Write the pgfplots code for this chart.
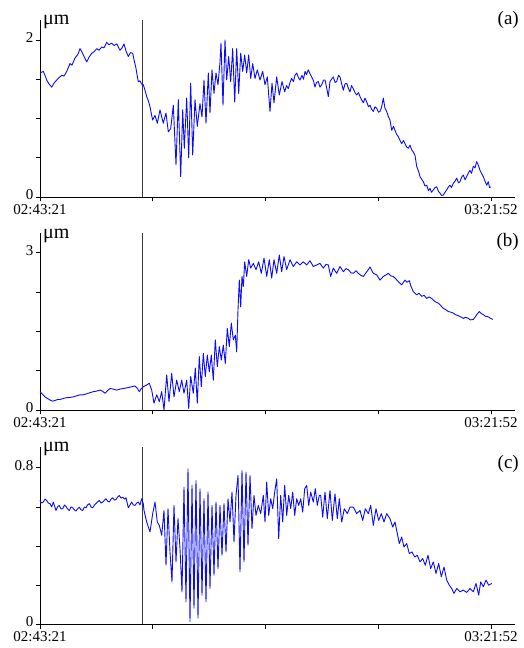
\documentclass[border=0pt]{standalone}
\usepackage{fontspec}
\setmainfont{Liberation Serif}
\usepackage{pgfplots}
\pgfplotsset{compat=1.18}
\definecolor{trace}{RGB}{10,10,255}
\definecolor{marker}{RGB}{60,60,60}
\begin{document}
\begin{tikzpicture}
\pgfplotsset{
  panel/.style={
    scale only axis, width=475pt, height=177pt,
    xmin=0, xmax=475, ymin=0,
    axis x line=bottom, axis y line=left,
    axis line style={-, line width=0.9pt, black},
    tick align=outside, major tick length=4.5pt,
    tick style={line width=0.8pt, black},
    xtick={0,112.75,225.5,338.25,451},
    xticklabels={02:43:21,,,,03:21:52},
    tick label style={font=\fontsize{15}{15}\selectfont},
    xticklabel style={inner xsep=1pt, inner ysep=0pt, yshift=-2.5pt},
    yticklabel style={inner xsep=2pt, inner ysep=0pt, yshift=2.5pt},
    /pgf/number format/assume math mode=true,
    clip=false,
  },
  trace/.style={color=trace, line width=0.9pt, no marks, line join=round},
  vline/.style={color=marker, line width=0.6pt, no marks},
}
\path[use as bounding box] (0,0) rectangle (523pt,648pt);

% ---------------- (a)
\begin{axis}[panel, at={(40pt,451pt)}, anchor=south west, ymax=2.255,
  ytick={0,0.5,1,1.5,2}, yticklabels={0,,,,2}]
\addplot[vline] coordinates {(102,0) (102,2.255)};
\addplot[trace] coordinates {
(0,1.58) (3.3,1.60) (5,1.55) (6.7,1.49) (9,1.44) (11.7,1.40) (14,1.45) (16.7,1.49) (19,1.52) (21.7,1.55) (24,1.54) (26.7,1.60) (30,1.70) (32,1.68) (35,1.77) (38,1.82) (40,1.89) (41.5,1.86) (43.3,1.81) (46.7,1.72) (49,1.78) (51.7,1.83) (54,1.85) (56.7,1.89) (59,1.87) (61.7,1.91) (64,1.90) (66.7,1.97) (69,1.94) (71.7,1.96) (74,1.93) (76.7,1.95) (80,1.87) (82,1.90) (84,1.95) (86,1.86) (88.3,1.79) (90.5,1.84) (92.7,1.83) (94.5,1.72) (96,1.64) (97,1.56) (98.3,1.47) (100,1.48) (101.5,1.44) (103.3,1.43) (105,1.36) (106.7,1.28) (108.5,1.22) (110,1.15) (111.5,1.05) (112.7,0.98) (115,1.04) (117.3,0.94) (120,1.11) (123.3,0.94) (126,1.07) (128.3,0.83) (130.7,0.87)
(133.3,1.17) (136,0.41) (138.3,1.24) (140.7,0.26) (142.7,1.11) (144.3,0.62) (146.7,1.26) (148.7,0.50) (150.7,1.45) (152.7,0.535) (155,1.24) (157.3,0.90) (160,1.19) (162,1.02) (164,1.49) (166,0.94) (168.3,1.58) (170,1.07) (172,1.62) (174,1.32) (176,1.58) (178,1.43) (180,1.72) (181,1.96) (183,1.17) (185,2.0) (186.7,1.49) (188.7,1.79) (190.7,1.47) (192.7,1.89) (194.7,1.21) (196.7,1.89) (198.7,1.32) (200.7,1.83) (202.7,1.60) (204.7,1.81) (206.7,1.58) (208.7,1.81) (210.7,1.51) (212.7,1.70) (215,1.51) (217.3,1.62) (220,1.49) (222.7,1.60) (225,1.43) (227.3,1.53) (230,1.09) (232,1.45) (234,1.20) (236.7,1.53) (239.3,1.30) (242,1.47) (244.7,1.34) (246.5,1.42) (248.3,1.38) (250,1.46) (251.7,1.51) (253.5,1.47) (255,1.55) (256.7,1.58) (258.5,1.52) (260,1.49) (262,1.55) (263.5,1.50) (265,1.60) (266.5,1.56) (268.3,1.62) (270,1.57) (271.7,1.53) (273.5,1.48) (275,1.40) (276.5,1.46) (278.3,1.47) (280,1.40) (281.7,1.43) (283.5,1.49) (285,1.49) (286.5,1.40) (288.3,1.28) (290,1.47) (291.5,1.50) (293.3,1.53) (295,1.46) (296.7,1.47) (298.5,1.55) (300,1.53) (301.5,1.45) (303.3,1.36) (305,1.44) (306.7,1.45) (308.5,1.38) (310,1.34) (311.5,1.42) (313.3,1.38) (315,1.33) (316.7,1.30) (318.5,1.33) (320,1.28) (321.5,1.24) (323.3,1.20) (325,1.26) (326.7,1.21) (328.5,1.15) (330,1.17) (331.5,1.12) (333.3,1.09) (335,1.15) (336.7,1.13) (338.5,1.08) (340,1.09) (341.5,1.14) (343.3,1.26) (345,1.13) (346.7,1.09) (348.5,1.02) (350,0.98) (351.7,0.85) (353.5,0.90) (355,0.85) (356.5,0.80) (358.3,0.77) (360,0.72) (361.7,0.68) (363.5,0.72) (365,0.68) (366.5,0.64) (368.3,0.62) (370,0.66) (371.7,0.60) (373.5,0.57) (375,0.53) (376.7,0.39) (378.5,0.33) (380,0.26) (381.5,0.23) (383.3,0.195) (385,0.14) (386.7,0.15) (388.5,0.08) (390,0.11) (391.5,0.06) (393.3,0.09) (395,0.12) (396.7,0.13) (398.5,0.07) (400,0.05) (401.5,0.02) (403.3,0.025) (405,0.06) (406.7,0.09) (408.5,0.13) (410,0.15) (411.5,0.12) (413.3,0.175) (415,0.20) (416.7,0.24) (418.5,0.18) (420,0.195) (421.5,0.25) (423.3,0.28) (425,0.22) (426.7,0.26) (428.5,0.31) (430,0.34) (431.5,0.30) (433.3,0.39) (435,0.37) (436.7,0.45) (438.5,0.40) (440,0.34) (441.5,0.30) (443.3,0.26) (445,0.20) (446.7,0.15) (448.3,0.195) (449.5,0.12) (450.7,0.13)
};
\end{axis}

% ---------------- (b)
\begin{axis}[panel, at={(40pt,238pt)}, anchor=south west, ymax=3.38,
  ytick={0,0.75,1.5,2.25,3}, yticklabels={0,,,,3}]
\addplot[vline] coordinates {(102,0) (102,3.38)};
\addplot[trace] coordinates {
(0,0.35) (2.5,0.30) (5,0.25) (7.5,0.22) (10,0.19) (12.5,0.17) (15,0.18) (17.5,0.20) (20,0.20) (23,0.22) (26.7,0.235) (30,0.24) (33.3,0.25) (36.5,0.27) (40,0.29) (43,0.29) (46.7,0.31) (50,0.33) (53.3,0.35) (56.5,0.36) (60,0.38) (62.5,0.36) (65,0.32) (67.5,0.37) (70,0.41) (73,0.40) (76.7,0.38) (80,0.40) (83.3,0.41) (86,0.42) (88.3,0.43) (91,0.44) (95,0.46) (97,0.42) (99.3,0.35) (101,0.40) (103.3,0.445) (106,0.47) (109.3,0.51) (111.7,0.38) (114,0.13) (116.7,0.29) (119.3,0.16) (121.7,0.35) (124,0.0) (126.7,0.67) (129,0.16) (131.7,0.70) (134,0.25) (136.7,0.57) (139.3,0.35) (141.7,0.57) (144,0.32) (146.7,0.57) (148.7,0.03) (150.7,0.64) (153.3,0.32) (155.3,0.80) (157.3,0.13) (159.3,1.02) (161.3,0.445) (163.3,1.08) (165.3,0.64) (167.3,1.05) (169.3,0.73) (171.3,1.05) (173.3,0.57) (175.3,1.34) (177.3,0.83) (179.3,1.21) (181.3,0.955) (183.3,1.24) (185.3,0.89) (187.3,1.56) (189.3,1.21) (191.3,1.66) (193.3,1.34) (195.3,1.43) (196.7,1.11) (198,1.91) (199.3,2.48) (200.7,1.97) (202,2.55) (203.3,2.36) (204.7,2.83) (206.7,2.55) (208.7,2.87) (210.7,2.71) (213.3,2.80) (216,2.68) (218.7,2.83) (221.3,2.61) (224,2.90) (226.7,2.55) (229.3,2.87) (231.7,2.52) (234,2.87) (236.7,2.61) (239.3,2.96) (241.7,2.64) (244,2.93) (246.7,2.68) (250,2.87) (253.3,2.74) (256.7,2.83) (260,2.77) (263.3,2.83) (266.7,2.77) (270,2.85) (273.3,2.74) (276.7,2.77) (280,2.80) (283.3,2.71) (286,2.78) (288.3,2.77) (290.7,2.55) (293.3,2.71) (296.7,2.61) (300,2.74) (303.3,2.64) (306,2.70) (308.3,2.68) (311,2.62) (313.3,2.61) (316,2.66) (318.3,2.61) (321,2.57) (323.3,2.55) (326,2.62) (328.3,2.68) (330,2.73) (333.3,2.61) (336.7,2.58) (340,2.48) (343.3,2.55) (346,2.58) (348.3,2.61) (351,2.56) (353.3,2.55) (356,2.50) (358.3,2.45) (361.7,2.39) (365,2.48) (367,2.44) (369.3,2.47) (371,2.36) (373.3,2.26) (376.7,2.20) (379,2.23) (381.7,2.17) (384,2.19) (386.7,2.13) (389,2.16) (391.7,2.13) (395,2.07) (398.3,2.04) (400.5,2.00) (403.3,1.94) (405.5,1.92) (408.3,1.88) (410.5,1.87) (413.3,1.85) (415.5,1.82) (418.3,1.80) (420.5,1.78) (423.3,1.75) (425.5,1.77) (428.3,1.75) (430.5,1.72) (433.3,1.73) (435,1.77) (436.7,1.82) (439.3,1.88) (441.5,1.84) (443.3,1.82) (445.5,1.79) (448.3,1.78) (450.5,1.75) (452.7,1.73)
};
\end{axis}

% ---------------- (c)
\begin{axis}[panel, at={(40pt,23.7pt)}, anchor=south west, ymax=0.905,
  ytick={0,0.2,0.4,0.6,0.8}, yticklabels={0,,,,0.8}]
\addplot[vline] coordinates {(102,0) (102,0.905)};
\addplot[trace] coordinates {
(0,0.633) (1.5,0.62) (3.3,0.625) (5,0.64) (6.7,0.633) (8.3,0.62) (10,0.617) (11.7,0.60) (13.3,0.625) (16,0.582) (17.5,0.60) (19.3,0.608) (21,0.59) (22.7,0.591) (24.5,0.61) (26,0.603) (27.5,0.59) (29.3,0.582) (31,0.60) (32.7,0.596) (34.5,0.585) (36,0.579) (37.5,0.59) (39.3,0.599) (41,0.585) (42.7,0.582) (44.5,0.60) (46,0.596) (47.5,0.61) (49.3,0.617) (51,0.60) (52.7,0.596) (54.5,0.61) (56,0.617) (57.5,0.625) (59.3,0.633) (61,0.62) (62.7,0.625) (64.5,0.635) (66,0.642) (67.5,0.63) (69.3,0.625) (71,0.64) (72.7,0.647) (74.5,0.635) (76,0.637) (77.5,0.65) (79.3,0.659) (81,0.645) (82.7,0.650) (84.5,0.64) (86,0.647) (88.3,0.596) (90,0.61) (91.7,0.625) (93.3,0.61) (95,0.608) (96.7,0.62) (98.3,0.625) (100,0.61) (101.7,0.642) (103.3,0.617) (104,0.582) (106.7,0.523) (110,0.472) (112.7,0.566) (115,0.625) (117.3,0.523) (119.3,0.506) (121.7,0.455) (124,0.582) (126,0.302) (128,0.591) (130,0.370) (132,0.217) (134,0.608) (136,0.319) (138,0.540) (140,0.387) (142,0.166) (144,0.701) (146,0.115) (148,0.795) (150,0.013) (152,0.710) (154,0.082) (156,0.735) (158,0.031) (160,0.693) (162,0.149) (164,0.642) (166,0.115) (168,0.676) (170,0.183) (172,0.608) (174,0.251) (176,0.625) (178,0.285) (180,0.608) (182,0.353) (184,0.617) (186,0.370) (188,0.642) (190,0.523) (192,0.676) (194,0.421) (196,0.659) (198,0.761) (200,0.268) (202,0.786) (204,0.319) (206,0.778) (208,0.404) (210,0.761) (212,0.489) (214,0.659) (216,0.557) (218.3,0.608) (220.7,0.566) (223.3,0.659) (225,0.523) (226.7,0.727) (228.7,0.557) (230.7,0.642) (232.7,0.591) (234.7,0.676) (236.7,0.744) (238.7,0.438) (240.7,0.659) (242.7,0.523) (244.7,0.710) (246.7,0.557) (248.7,0.659) (250.7,0.591) (252.7,0.676) (254.7,0.557) (256.7,0.642) (258.7,0.608) (260.7,0.642) (262.7,0.574) (264.7,0.693) (266.7,0.710) (268.7,0.608) (270.7,0.676) (273.3,0.625) (275.3,0.693) (277.3,0.608) (279.3,0.659) (280.7,0.659) (282.7,0.548) (285,0.676) (287.3,0.540) (290,0.684) (292.3,0.531) (295,0.667) (297.3,0.540) (299.3,0.642) (301.7,0.523) (304.3,0.591) (307.3,0.566) (310,0.599) (313.3,0.599) (316.7,0.566) (320,0.582) (322.7,0.531) (325.3,0.591) (328.3,0.566) (330.7,0.608) (333.3,0.506) (336,0.591) (338.7,0.531) (341.3,0.566) (344,0.523) (346.7,0.566) (350,0.540) (352.7,0.497) (355,0.523) (357.3,0.464) (359.3,0.413) (361.7,0.446) (364,0.395) (366.7,0.413) (369.3,0.362) (372,0.370) (374.7,0.344) (377.3,0.353) (380,0.319) (382.7,0.336) (385.3,0.302) (388,0.353) (390.7,0.285) (393.3,0.319) (396,0.260) (398.7,0.311) (401.3,0.243) (404,0.293) (406.7,0.226) (409.3,0.200) (411.7,0.183) (414,0.158) (416.7,0.183) (420,0.166) (423.3,0.175) (426.7,0.163) (430,0.183) (433.3,0.166) (436,0.209) (438.7,0.149) (440.7,0.217) (443.3,0.192) (446,0.226) (448.7,0.200) (451.7,0.209)
};
\end{axis}

% labels
\node[anchor=base west, inner sep=0pt, font=\fontsize{20}{20}\selectfont] at (43pt,623pt) {μm};
\node[anchor=base west, inner sep=0pt, font=\fontsize{20}{20}\selectfont] at (43pt,409.7pt) {μm};
\node[anchor=base west, inner sep=0pt, font=\fontsize{20}{20}\selectfont] at (43pt,196.3pt) {μm};
\node[anchor=base east, inner sep=0pt, font=\fontsize{19}{19}\selectfont] at (519pt,623pt) {(a)};
\node[anchor=base east, inner sep=0pt, font=\fontsize{19}{19}\selectfont] at (519pt,401pt) {(b)};
\node[anchor=base east, inner sep=0pt, font=\fontsize{19}{19}\selectfont] at (519pt,179pt) {(c)};
\end{tikzpicture}
\end{document}
